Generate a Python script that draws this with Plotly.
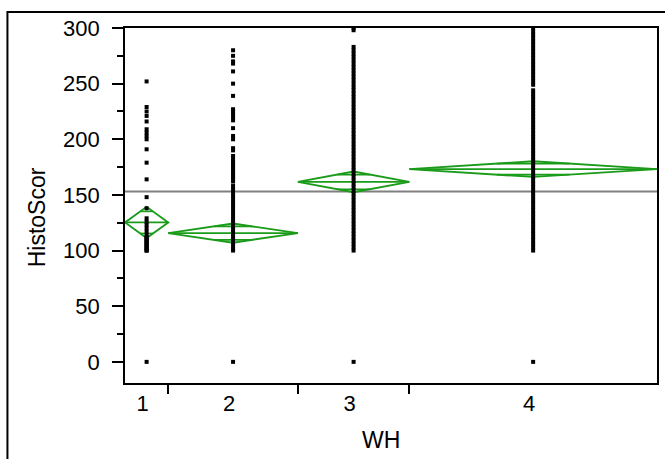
import plotly.graph_objects as go
import numpy as np

# ---------------- data ----------------
groups = ["1", "2", "3", "4"]
group_n = [26, 78, 67, 149]          # relative group sizes (set the x widths)
group_means = [125.3, 115.7, 161.7, 173.2]
group_ci_half = [14.0, 8.6, 9.3, 7.0]
grand_mean = 153.0

wh1_scores = [0, 100, 100, 101, 102, 103, 104, 105, 106, 107, 108, 109, 110, 111,
              112, 114, 117, 120, 123, 126, 129, 138, 148, 164, 179, 191, 200,
              203, 206, 209, 216, 221, 225, 229, 252]
wh2_scores = [0, 280, 275, 270, 268, 261, 250, 239, 227, 225, 223, 220, 217, 210,
              203, 200, 192, 190, 185, 182, 180, 178, 176, 174, 172, 170, 168,
              166, 164, 162, 158, 155, 152, 149, 146, 143, 140, 137, 134, 131,
              128, 125, 122, 119, 116, 113, 110, 107, 104, 101, 100]
wh3_scores = [0, 300, 298, 283, 280, 277, 274, 271, 268, 265, 262, 259, 256, 253,
              250, 247, 244, 241, 238, 235, 232, 229, 226, 223, 220, 217, 214,
              211, 208, 205, 202, 199, 196, 193, 190, 187, 184, 181, 178, 175,
              172, 169, 166, 163, 160, 157, 154, 151, 148, 145, 142, 139, 136,
              133, 130, 127, 124, 121, 118, 115, 112, 109, 106, 103, 100]
wh4_scores = [0, 300, 297, 294, 291, 288, 285, 282, 279, 276, 273, 270, 267, 264,
              261, 258, 255, 252, 249, 244, 241, 238, 235, 232, 229, 226, 223,
              220, 217, 214, 211, 208, 205, 202, 199, 196, 193, 190, 187, 184,
              181, 178, 175, 172, 169, 166, 163, 160, 157, 154, 151, 148, 145,
              142, 139, 136, 133, 130, 127, 124, 121, 118, 115, 112, 109, 106,
              103, 100]
scores = [wh1_scores, wh2_scores, wh3_scores, wh4_scores]

y_ticks = [0, 50, 100, 150, 200, 250, 300]

# ---------------- geometry from data ----------------
edges = np.concatenate([[0], np.cumsum(group_n)])
centers = (edges[:-1] + edges[1:]) / 2
total = edges[-1]
px_per_unit = 534 / total

GREEN = "rgb(26,155,26)"
fig = go.Figure()

# grand mean line
fig.add_trace(go.Scatter(x=[0, total], y=[grand_mean, grand_mean], mode="lines",
                         line=dict(color="#808080", width=2), hoverinfo="skip"))

# means diamonds
for i in range(4):
    x0, x1, xc = edges[i], edges[i + 1], centers[i]
    m, h = group_means[i], group_ci_half[i]
    fig.add_trace(go.Scatter(
        x=[x0, xc, x1, xc, x0], y=[m, m + h, m, m - h, m], mode="lines",
        line=dict(color=GREEN, width=1.9), hoverinfo="skip"))
    fig.add_trace(go.Scatter(x=[x0, x1], y=[m, m], mode="lines",
                             line=dict(color=GREEN, width=1.9), hoverinfo="skip"))
    d = h / np.sqrt(2)
    half_w = (x1 - x0) / 2 * (1 - 1 / np.sqrt(2))
    for yy in (m + d, m - d):
        fig.add_trace(go.Scatter(x=[xc - half_w, xc + half_w], y=[yy, yy], mode="lines",
                                 line=dict(color=GREEN, width=1.6), hoverinfo="skip"))

# points
for i in range(4):
    fig.add_trace(go.Scatter(
        x=[centers[i]] * len(scores[i]), y=scores[i], mode="markers",
        marker=dict(symbol="square", size=4, color="black", line=dict(width=0))))

font = dict(family="Liberation Sans, Arial, sans-serif", size=22, color="black")
title_font = dict(family="Liberation Sans, Arial, sans-serif", size=23, color="black")

label_pos = [c - 4 / px_per_unit for c in centers]

fig.update_layout(
    width=665, height=459,
    margin=dict(l=125, r=6, t=28, b=76),
    plot_bgcolor="white", paper_bgcolor="white",
    showlegend=False, font=font,
    xaxis=dict(range=[0, total], tickmode="array", tickvals=label_pos,
               ticktext=groups, ticks="", ticklen=0, showgrid=False, zeroline=False,
               showline=True, linecolor="black", linewidth=1.8, mirror=True,
               tickfont=font, ticklabelstandoff=0,
               minor=dict(tickmode="array", tickvals=list(edges[1:-1]), ticks="outside",
                          ticklen=9, tickwidth=1.5, tickcolor="black", showgrid=False)),
    yaxis=dict(range=[-19, 300], tickmode="array", tickvals=y_ticks,
               ticks="outside", ticklen=11, tickwidth=1.6, tickcolor="black",
               showgrid=False, zeroline=False, showline=True, linecolor="black",
               linewidth=1.8, mirror=True, tickfont=font, ticklabelstandoff=8,
               minor=dict(dtick=25, tick0=0, ticks="outside", ticklen=6,
                          tickwidth=1.5, tickcolor="black", showgrid=False)),
    annotations=[
        dict(text="HistoScor", xref="paper", yref="paper", x=(37 - 125) / 534,
             y=1 - (217 - 28) / 355, textangle=-90, showarrow=False,
             xanchor="center", yanchor="middle", font=title_font),
        dict(text="WH", xref="paper", yref="paper", x=(382 - 125) / 534,
             y=(383 - 440) / 355, showarrow=False, xanchor="center",
             yanchor="middle", font=title_font),
    ],
    shapes=[dict(type="rect", xref="paper", yref="paper", x0=(7 - 125) / 534,
                 x1=1.1, y0=-0.5, y1=1 + (28 - 12) / 355,
                 line=dict(color="black", width=2), layer="above")],
)

fig.write_html("out.html")
